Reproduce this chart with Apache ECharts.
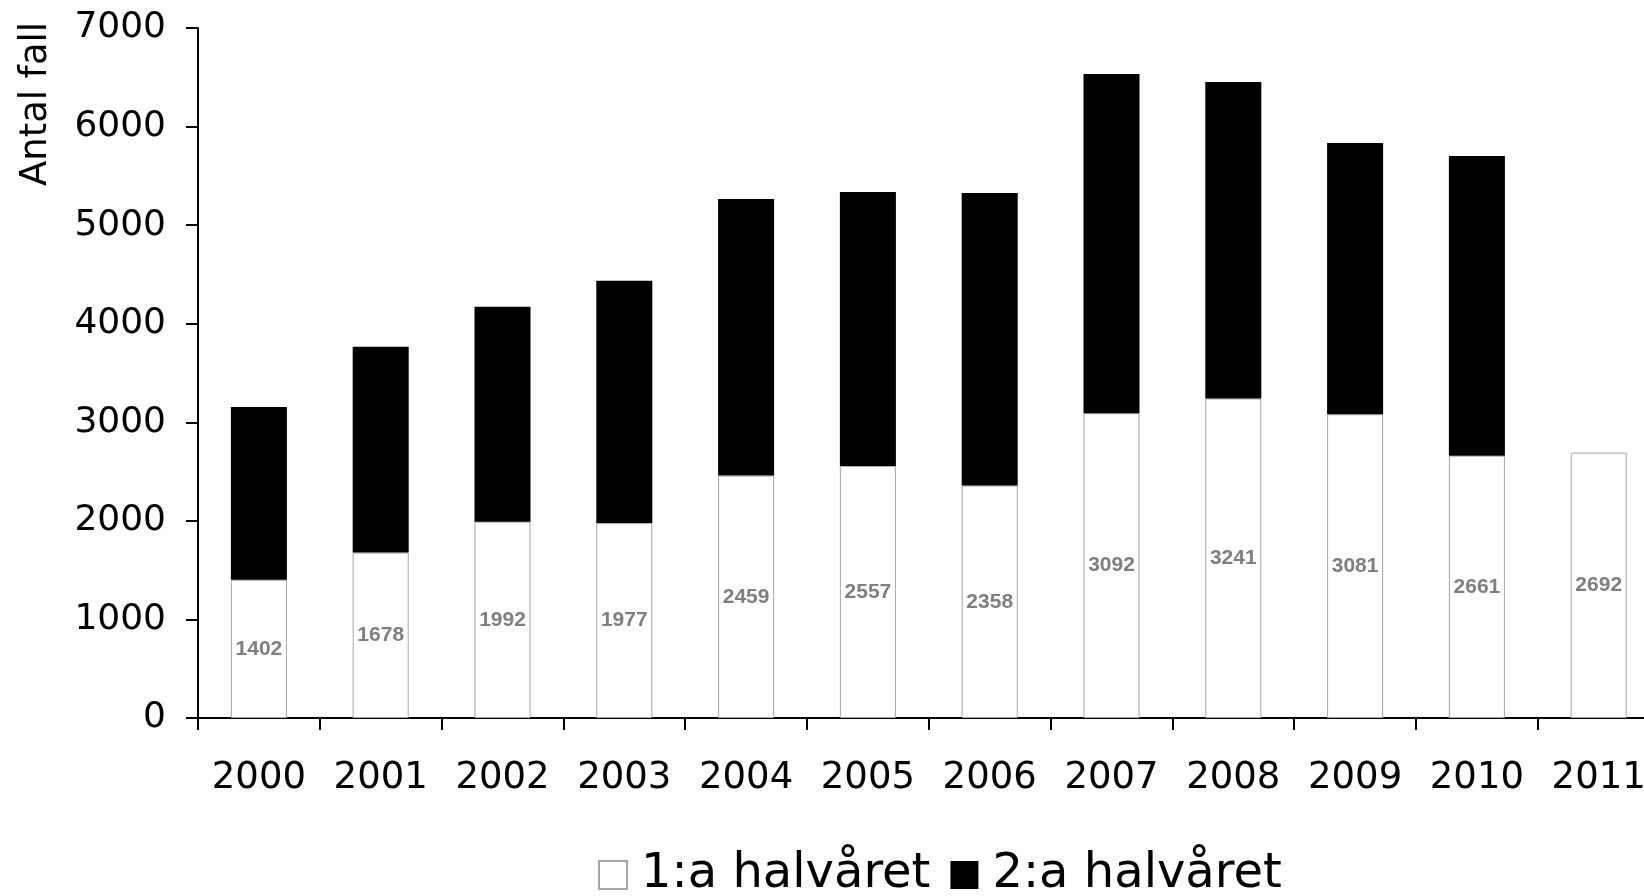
<!DOCTYPE html>
<html>
<head>
<meta charset="utf-8">
<script src="https://cdn.jsdelivr.net/npm/echarts@6/dist/echarts.min.js"></script>
<style>
html,body{margin:0;padding:0;background:#fff;}
#chart{width:1644px;height:896px;}
</style>
</head>
<body>
<div id="chart"></div>
<script>
const years = ['2000','2001','2002','2003','2004','2005','2006','2007','2008','2009','2010','2011'];
const firstHalf = [1402,1678,1992,1977,2459,2557,2358,3092,3241,3081,2661,2692];
const secondHalf = [1753,2089,2181,2460,2806,2779,2968,3441,3211,2752,3041,null];
const yTicks = [0,1000,2000,3000,4000,5000,6000,7000];
const seriesNames = ['1:a halvåret','2:a halvåret'];
const yTitle = 'Antal fall';

const chart = echarts.init(document.getElementById('chart'));
const bandW = 121.8;
chart.setOption({
  animation: false,
  backgroundColor: '#fff',
  grid: { left: 198, top: 28, bottom: 178, width: bandW * years.length, containLabel: false, outerBoundsMode: 'none' },
  xAxis: {
    type: 'category',
    data: years,
    boundaryGap: true,
    axisLine: { lineStyle: { color: '#000', width: 2 } },
    axisTick: { show: true, length: 12, lineStyle: { color: '#000', width: 2 }, alignWithLabel: false },
    axisLabel: { color: '#000', fontSize: 37, fontFamily: 'DejaVu Sans', margin: 42, interval: 0 },
    splitLine: { show: false }
  },
  yAxis: {
    type: 'value',
    min: yTicks[0],
    max: yTicks[yTicks.length - 1],
    interval: 1000,
    axisLine: { show: true, lineStyle: { color: '#000', width: 2 } },
    axisTick: { show: true, length: 12, lineStyle: { color: '#000', width: 2 } },
    axisLabel: { color: '#000', fontSize: 36, fontFamily: 'DejaVu Sans', margin: 32, formatter: function (v) { return String(v); } },
    splitLine: { show: false }
  },
  legend: {
    data: seriesNames,
    left: 598,
    top: 851,
    padding: 0,
    itemWidth: 28,
    itemHeight: 28,
    itemGap: 20,
    icon: 'rect',
    textStyle: { fontSize: 48, color: '#000', fontFamily: 'DejaVu Sans', padding: [0, 0, 0, 9] }
  },
  graphic: [{
    type: 'text',
    x: 36, y: 104,
    rotation: Math.PI / 2,
    style: { text: yTitle, font: '37px "DejaVu Sans"', fill: '#000', align: 'center', verticalAlign: 'middle' }
  }],
  series: [
    {
      name: seriesNames[0],
      type: 'bar',
      stack: 'total',
      data: firstHalf,
      barWidth: '46%',
      itemStyle: { color: '#fff', borderColor: '#a6a6a6', borderWidth: 1 },
      label: { show: true, position: 'inside', color: '#7f7f7f', fontSize: 21, fontWeight: 'bold', fontFamily: 'Liberation Sans' }
    },
    {
      name: seriesNames[1],
      type: 'bar',
      stack: 'total',
      data: secondHalf,
      barWidth: '46%',
      itemStyle: { color: '#000' }
    }
  ]
});
</script>
</body>
</html>
